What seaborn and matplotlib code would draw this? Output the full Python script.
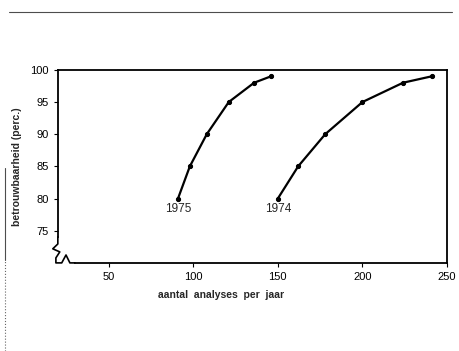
import matplotlib
matplotlib.use('Agg')
import matplotlib.pyplot as plt
import seaborn as sns
import pandas as pd

# waarden
betrouwbaarheid = [80, 85, 90, 95, 98, 99]
analyses_1975 = [91, 98, 108, 121, 136, 146]
analyses_1974 = [150, 162, 178, 200, 224, 241]
jaren = ['1975', '1974']
x_ticks = [50, 100, 150, 200, 250]
y_ticks = [75, 80, 85, 90, 95, 100]

df = pd.concat([
    pd.DataFrame({'analyses': analyses_1975, 'perc': betrouwbaarheid, 'jaar': '1975'}),
    pd.DataFrame({'analyses': analyses_1974, 'perc': betrouwbaarheid, 'jaar': '1974'}),
])

sns.set_style('ticks')
plt.rcParams['font.family'] = ['Liberation Sans', 'DejaVu Sans']

fig = plt.figure(figsize=(4.59, 3.51), dpi=100)
ax = fig.add_axes([0.126, 0.251, 0.848, 0.550])

for jaar in jaren:
    sub = df[df['jaar'] == jaar]
    sns.lineplot(data=sub, x='analyses', y='perc', ax=ax, color='black',
                 linewidth=1.6, marker='o', markersize=3,
                 markeredgecolor='black', estimator=None, sort=False)
    ax.annotate(jaar, (sub['analyses'].iloc[0], sub['perc'].iloc[0]),
                xytext=(0, -3), textcoords='offset points',
                ha='center', va='top', fontsize=8.5)

ax.set_xlim(20, 250)
ax.set_ylim(70, 100)
ax.set_xticks(x_ticks)
ax.set_yticks(y_ticks)
ax.tick_params(labelsize=8, length=3, width=0.8, colors='black')
for s in ax.spines.values():
    s.set_visible(True)
    s.set_linewidth(1.3)
    s.set_color('black')
ax.spines['left'].set_bounds(74, 100)
ax.spines['bottom'].set_bounds(30, 250)

ax.set_xlabel('aantal  analyses  per  jaar', fontsize=7.5, fontweight='bold')
ax.xaxis.set_label_coords(0.42, -0.14)
ax.set_ylabel('betrouwbaarheid (perc.)', fontsize=7.5, fontweight='bold')
ax.yaxis.set_label_coords(-0.093, 0.5)

# asonderbreking linksonder
ax.plot([0.0, 0.0, -0.013, 0.005, -0.005, -0.005, 0.010, 0.021, 0.031, 0.044],
        [0.135, 0.098, 0.073, 0.057, 0.026, 0.0, 0.0, 0.041, 0.0, 0.0],
        transform=ax.transAxes, color='black', lw=1.2, clip_on=False)

# randlijnen van de scan
fig.add_artist(plt.Line2D([0.02, 0.985], [0.965, 0.965], color='0.3', lw=0.8))
fig.add_artist(plt.Line2D([0.01, 0.01], [0.26, 0.52], color='0.3', lw=0.8))
fig.add_artist(plt.Line2D([0.01, 0.01], [0.0, 0.26], color='0.4', lw=0.8, ls=':'))

fig.savefig('out.png', dpi=100)
